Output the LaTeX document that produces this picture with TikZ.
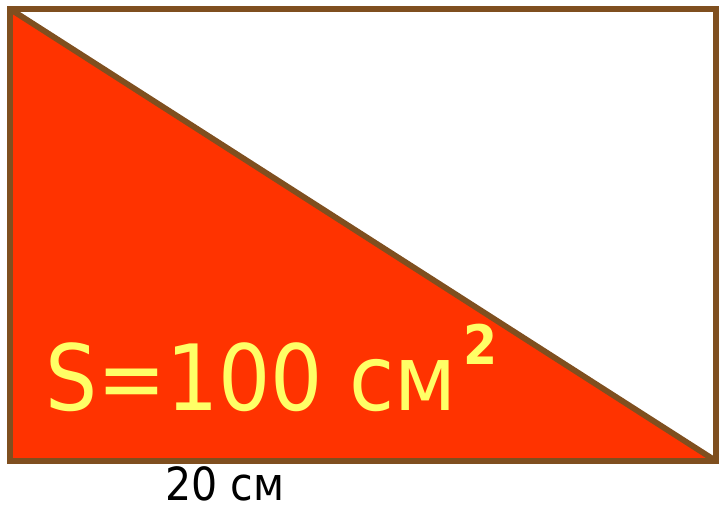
\documentclass[tikz,border=0pt]{standalone}
\usepackage{fontspec}
\setmainfont{DejaVu Sans Condensed}
\usepackage{xcolor}
\usetikzlibrary{positioning, calc}

\definecolor{framebrown}{HTML}{7F4F1F}
\definecolor{trired}{HTML}{FF3300}
\definecolor{labelyellow}{HTML}{FFFF66}

\begin{document}
\begin{tikzpicture}[
    x=0.02cm, y=-0.02cm,
    frame/.style={draw=framebrown, line width=3.3pt, line join=miter},
    areatext/.style={inner sep=0pt, anchor=base west, text=labelyellow, font=\fontsize{52}{60}\selectfont},
    sidetext/.style={inner sep=0pt, anchor=base west, text=black, font=\fontsize{26}{30}\selectfont}
]
\useasboundingbox (0,0) rectangle (719,507);

\coordinate (tl) at (10,9);
\coordinate (bl) at (10,461);
\coordinate (br) at (716,461);
\coordinate (tr) at (716,9);

\fill[trired] (tl) -- (bl) -- (br) -- cycle;
\draw[frame] (tl) -- (br);
\draw[frame] (tl) rectangle (br);

\node[areatext] (area) at (45,410) {S=100 см\hspace{0.08em}\raisebox{0.5em}{\fontsize{31}{31}\selectfont\bfseries 2}};
\node[sidetext] (base) at (165,500) {20 см};

\end{tikzpicture}
\end{document}
